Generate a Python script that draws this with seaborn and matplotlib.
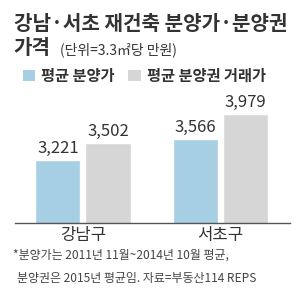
import numpy as np
import pandas as pd
import seaborn as sns
import matplotlib.pyplot as plt
from matplotlib.patches import Patch

districts = ['강남구', '서초구']
series = ['평균 분양가', '평균 분양권 거래가']
presale = [3221, 3566]
resale = [3502, 3979]
colors = ['#a6cfe4', '#d6d6d6']

df = pd.DataFrame({
    'district': districts * 2,
    'series': [series[0]] * 2 + [series[1]] * 2,
    'price': presale + resale,
})

sns.set_style('white')
plt.rcParams['font.family'] = ['Noto Sans CJK KR', 'DejaVu Sans']
txt = '#333333'

fig = plt.figure(figsize=(3.0, 2.92), dpi=100)
ax = fig.add_axes([0.05, 0.236, 0.917, 0.438])

sns.barplot(data=df, x='district', y='price', hue='series', palette=colors,
            width=0.73, gap=0.1, legend=False, ax=ax, saturation=1)

for c in ax.containers:
    ax.bar_label(c, labels=[f'{v:,.0f}' for v in c.datavalues],
                 padding=2, fontsize=12, color=txt)

ax.set_ylim(2180, 4292)
ax.set_xlim(-0.496, 1.511)
ax.set_xlabel('')
ax.set_ylabel('')
ax.set_yticks([])
ax.tick_params(axis='x', length=0, labelsize=12, colors=txt, pad=3)
for s in ['left', 'right', 'top']:
    ax.spines[s].set_visible(False)
ax.spines['bottom'].set_color('#555555')
ax.spines['bottom'].set_linewidth(1.0)

fig.text(0.045, 0.921, '강남·서초 재건축 분양가·분양권', fontsize=14.5,
         fontweight='heavy', color=txt, va='center')
fig.text(0.045, 0.836, '가격', fontsize=14.5, fontweight='heavy', color=txt, va='center')
fig.text(0.2, 0.83, '(단위=3.3㎡당 만원)', fontsize=10, color=txt, va='center')

handles = [Patch(facecolor=col, edgecolor='none') for col in colors]
leg = fig.legend(handles, series, loc='center left', bbox_to_anchor=(0.03, 0.74),
                 ncol=2, frameon=False, handlelength=0.8, handleheight=0.8,
                 handletextpad=0.4, columnspacing=0.9,
                 prop={'size': 11, 'weight': 'bold'})
for t in leg.get_texts():
    t.set_color(txt)

fig.text(0.043, 0.127, '*분양가는 2011년 11월~2014년 10월 평균,', fontsize=8.6, color='#444444', va='center')
fig.text(0.057, 0.045, '분양권은 2015년 평균임. 자료=부동산114 REPS', fontsize=8.6, color='#444444', va='center')

fig.savefig('out.png', dpi=100)
